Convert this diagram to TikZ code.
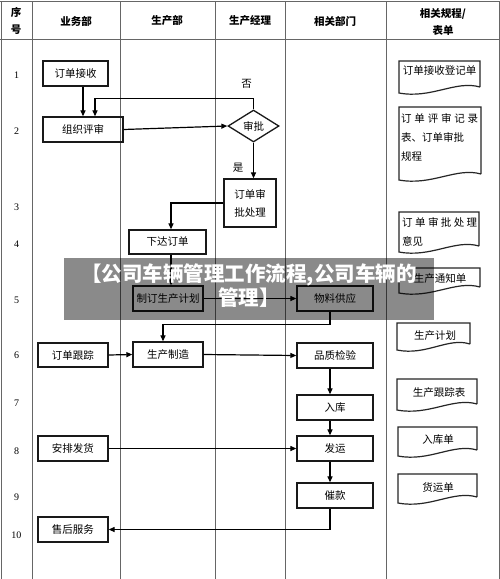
\documentclass[tikz,border=0pt]{standalone}
\usepackage{fontspec}
\setmainfont{Noto Sans CJK SC}
\newfontfamily\numfont{Liberation Serif}
\usetikzlibrary{arrows.meta,shapes.geometric,calc}
\newcommand\docshape[4]{% x1, y1, x2, yb
  \draw[docline] (#3,#4-6) -- (#3,#2) -- (#1,#2) -- (#1,#4)
    .. controls ({#1+0.4*(#3-#1)},#4+6) and ({#3-0.3*(#3-#1)},#4-13) .. (#3,#4-6);
}
\begin{document}
\begin{tikzpicture}[x=1pt,y=-1pt,
  grid/.style={draw=black!60, line width=1pt},
  box/.style={draw=black!90, line width=1.3pt, minimum width=#1, minimum height=25pt,
    inner sep=0pt, font=\fontsize{10.5}{18}\selectfont},
  box/.default=70pt,
  docline/.style={draw=black!85, line width=1.2pt},
  doctext/.style={inner sep=0pt, font=\fontsize{10.5}{19}\selectfont},
  hdr/.style={inner sep=0pt, font=\fontsize{10.5}{17}\selectfont\bfseries},
  num/.style={inner sep=0pt, font=\fontsize{10}{12}\numfont},
  lbl/.style={inner sep=0pt, font=\fontsize{10.5}{12}\selectfont},
  arr/.style={draw=black, line width=1.2pt, -{Triangle[length=6pt,width=5pt]}},
  ln/.style={draw=black, line width=1.2pt}
]
\useasboundingbox (0,0) rectangle (500,579);
\fill[white] (0,0) rectangle (500,579);
% table grid
\draw[grid] (0,1.5) -- (500,1.5);
\draw[grid] (0,39.5) -- (500,39.5);
\foreach \gx in {1,32.5,120.5,215,285,386,499}
  \draw[grid] (\gx,1.5) -- (\gx,579);
% header
\node[hdr, align=center] (h0) at (16,21) {序\\号};
\node[hdr] (h1) at (76,21) {业务部};
\node[hdr] (h2) at (167,21) {生产部};
\node[hdr] (h3) at (250,21) {生产经理};
\node[hdr] (h4) at (335,21) {相关部门};
\node[hdr, align=center] (h5) at (443,22) {相关规程/\\表单};
% row numbers
\foreach \n/\ry in {1/75,2/131,3/207,4/244,5/300,6/355,7/403,8/451,9/497,10/535}
  \node[num] (r\n) at (16.5,\ry) {\n};
% coordinates for vertical connector x positions
\coordinate (vx) at (330,0);
\coordinate (vx2) at (171,0);
\coordinate (vx3) at (163,0);
% process boxes
\node[box=65pt] (jieshou) at (75.5,73.5) {订单接收};
\node[box=80pt] (pingshen) at (83,129.5) {组织评审};
\node[diamond, draw=black!90, line width=1.3pt, minimum width=51pt, minimum height=32pt,
  aspect=1.6, inner sep=0pt, font=\fontsize{10.5}{12}\selectfont] (shenpi) at (253.5,126) {审批};
\node[box=52pt, minimum height=48pt, align=center] (chuli) at (250,203) {订单审\\批处理};
\node[box=77pt, minimum height=24pt] (xiada) at (167.5,242) {下达订单};
\node[box=70pt] (jihua) at (168,298.5) {制订生产计划};
\node[box=76pt] (wuliao) at (335,298.5) {物料供应};
\node[box=70pt, minimum height=24pt] (genzong) at (73,355) {订单跟踪};
\node[box=70pt] (zhizao) at (168,354.5) {生产制造};
\node[box=76pt] (pinzhi) at (335,355.5) {品质检验};
\node[box=76pt] (ruku) at (335,407.5) {入库};
\node[box=76pt] (fayun) at (335,448.5) {发运};
\node[box=76pt] (cuikuan) at (335,495.5) {催款};
\node[box=70pt] (anpai) at (73,448.5) {安排发货};
\node[box=70pt] (shouhou) at (73,529.5) {售后服务};
% labels
\node[lbl] (fou) at (246.5,84) {否};
\node[lbl] (shi) at (238,168) {是};
% connectors
\draw[arr] (jieshou.south -| pingshen.north) -- (pingshen.north);
\draw[arr] (shenpi.north) -- ++(0,-11) -| ($(pingshen.north)+(12,0)$);
\draw[arr] (pingshen.east) -- (shenpi.west);
\draw[arr] (shenpi.south) -- (shenpi.south |- chuli.north);
\draw[arr] (chuli.west) -| (xiada.north -| vx2);
\draw[arr] (xiada.south -| vx2) -- (jihua.north -| vx2);
\draw[arr] (jihua.east) -- (wuliao.west);
\draw[arr] (wuliao.south -| vx) -- ++(0,13) -| (zhizao.north -| vx3);
\draw[arr] (genzong.east) -- (zhizao.west);
\draw[arr] (zhizao.east) -- (pinzhi.west);
\draw[arr] (pinzhi.south -| vx) -- (ruku.north -| vx);
\draw[arr] (ruku.south -| vx) -- (fayun.north -| vx);
\draw[arr] (anpai.east) -- (fayun.west);
\draw[arr] (fayun.south -| vx) -- (cuikuan.north -| vx);
\draw[arr] (cuikuan.south -| vx) |- (shouhou.east);
% documents
\docshape{399}{61}{480}{93}
\node[doctext] (d1) at (439.5,71) {订单接收登记单};
\docshape{399}{107}{481}{180}
\node[doctext, anchor=west, align=left] (d2) at (401,137)
  {\makebox[77pt][s]{订\hfill 单\hfill 评\hfill 审\hfill 记\hfill 录}\\表、订单审批\\规程};
\docshape{399}{212}{479}{252}
\node[doctext, anchor=west, align=left] (d3) at (402,232)
  {\makebox[75pt][s]{订\hfill 单\hfill 审\hfill 批\hfill 处\hfill 理}\\意见};
\docshape{399}{268}{480}{293}
\node[doctext] (d4) at (440,279) {生产通知单};
\docshape{397}{323}{470}{350}
\node[doctext] (d5) at (435,336) {生产计划};
\docshape{397}{379}{477}{410}
\node[doctext] (d6) at (439,393) {生产跟踪表};
\docshape{398}{427}{477}{456}
\node[doctext] (d7) at (438,440) {入库单};
\docshape{398}{474}{477}{503}
\node[doctext] (d8) at (438,487) {货运单};
% overlay banner
\fill[black, opacity=0.46] (64,258) rectangle (434,320);
\node[inner sep=0pt, align=center, text=white, font=\fontsize{20.5}{22}\selectfont\bfseries] (banner)
  at (249,285.5) {【公司车辆管理工作流程,公司车辆的\\管理】};
\end{tikzpicture}
\end{document}
